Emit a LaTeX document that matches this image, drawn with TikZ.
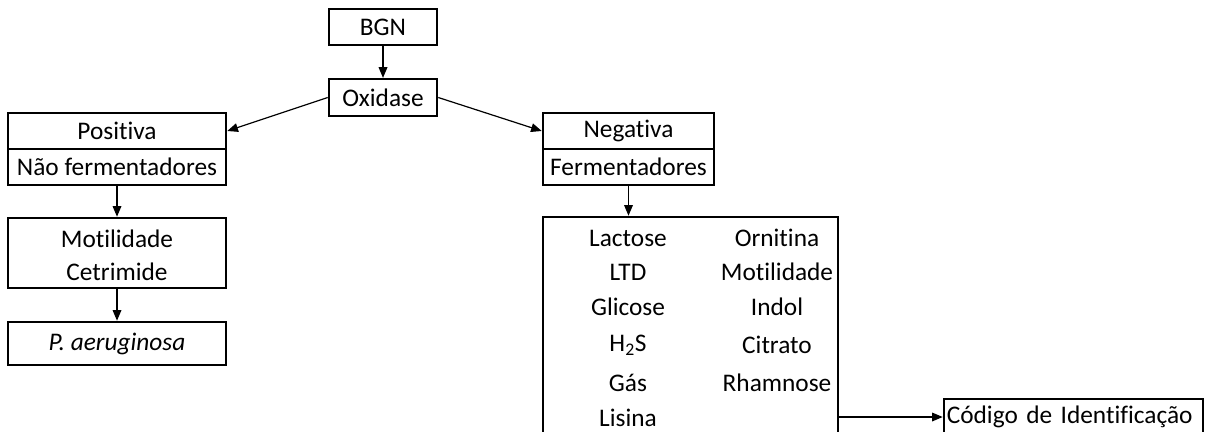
\documentclass[tikz,border=0pt]{standalone}
\usepackage{fontspec}
\setmainfont{Carlito}[Ligatures=NoCommon]
\usetikzlibrary{arrows.meta}
\begin{document}
\begin{tikzpicture}[x=0.75pt,y=-0.75pt,
  every node/.style={font=\fontsize{19}{23}\selectfont, inner sep=0pt},
  box/.style={draw, line width=1.9pt, rectangle},
  arr/.style={-{Triangle[length=8pt,width=6.5pt]}, line width=0.9pt}]
\useasboundingbox (0,0) rectangle (1207,432);
\clip (0,0) rectangle (1207,432);
% nodes
\node[box, minimum width=81pt, minimum height=27pt] (bgn) at (383,27) {BGN};
\node[box, minimum width=81pt, minimum height=27.5pt] (ox) at (383,97.5) {Oxidase};
\node[box, minimum width=163.5pt, minimum height=27pt] (pos) at (117,131) {Positiva};
\node[box, minimum width=163.5pt, minimum height=27pt] (naof) at (117,167) {Não fermentadores};
\node[box, minimum width=128.25pt, minimum height=27pt] (neg) at (628.5,131) {Negativa};
\node[box, minimum width=128.25pt, minimum height=27pt] (ferm) at (628.5,167) {Fermentadores};
\node[box, minimum width=163.5pt, minimum height=52.5pt] (motc) at (117,253) {};
\node (mot) at (117,239) {Motilidade};
\node (cet) at (117,272) {Cetrimide};
\node[box, minimum width=163.5pt, minimum height=32.25pt] (pa) at (117,343.5) {\textit{P. aeruginosa}};
\node[box, minimum width=221.25pt, minimum height=171pt] (tests) at (690.5,331) {};
\node (t1) at (628,238) {Lactose};
\node (t2) at (628,272) {LTD};
\node (t3) at (628,307) {Glicose};
\node (t4) at (628,345) {H\textsubscript{2}S};
\node (t5) at (628,383) {Gás};
\node (t6) at (628,418) {Lisina};
\node (u1) at (777,238) {Ornitina};
\node (u2) at (777,272) {Motilidade};
\node (u3) at (777,307) {Indol};
\node (u4) at (777,345) {Citrato};
\node (u5) at (777,383) {Rhamnose};
\node[box, minimum width=194.25pt, minimum height=27pt, align=left, text width=190pt] (cod) at (1073.5,417) {Código de Identificação};
% connectors
\draw[arr] (bgn) -- (ox);
\draw[arr] (ox.west) -- (pos.east);
\draw[arr] (ox.east) -- (neg.west);
\draw[arr] (naof) -- (motc);
\draw[arr] (motc) -- (pa);
\draw[arr] (ferm.south) -- (ferm.south |- tests.north);
\draw[arr] (tests.east |- cod.west) -- (cod.west);
\end{tikzpicture}
\end{document}
